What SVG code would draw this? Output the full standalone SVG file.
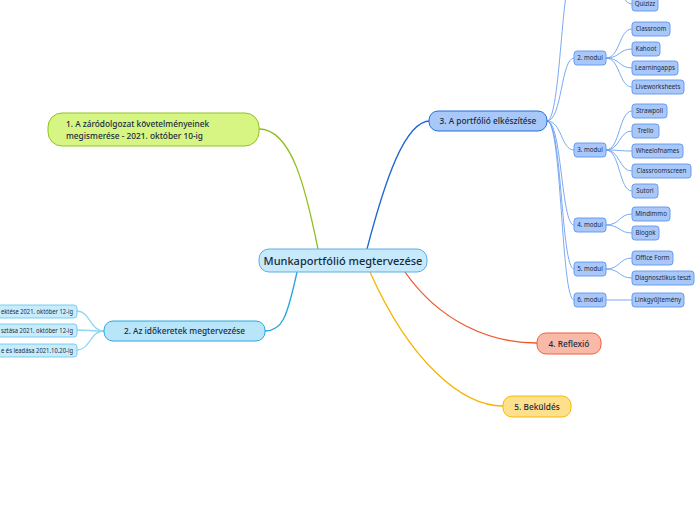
<svg xmlns="http://www.w3.org/2000/svg" width="696" height="520" viewBox="0 0 696 520">
<style>
text{font-family:"Noto Sans","Open Sans","DejaVu Sans",sans-serif;fill:#1a2a3c}
.c{fill:none;stroke-width:1.3}
.m{fill:none;stroke:#6b9ff0;stroke-width:0.9}
.t{font-size:11px;font-weight:500}
.n{font-size:8.3px;font-weight:500}
.s{font-size:6.2px}
.leaf{fill:#a9c8f9;stroke:#5b95ee;stroke-width:0.9}
.bl{fill:#c9ecfb;stroke:#6ccbf0;stroke-width:0.9}
</style>
<rect width="696" height="520" fill="#ffffff"/>
<g id="connectors">
<path class="c" stroke="#8fbf1a" d="M259,129 C292,129 306,190 318,249"/>
<path class="c" stroke="#1f66d6" d="M367,249 C385,180 405,121 430,121"/>
<path class="c" stroke="#24a4e0" d="M297,272 C287,318 282,331 265,331"/>
<path class="c" stroke="#f0552a" d="M405,272 C440,322 490,343 537,343"/>
<path class="c" stroke="#f5b400" d="M370,272 C410,362 462,406 503,406"/>
<path class="c" stroke="#8fd6f2" stroke-width="0.9" d="M104,331 C90,331 90,311 77,311"/>
<path class="c" stroke="#8fd6f2" stroke-width="0.9" d="M104,331 C90,331 90,330 77,330"/>
<path class="c" stroke="#8fd6f2" stroke-width="0.9" d="M104,331 C90,331 90,350 77,350"/>
<path class="m" d="M547,121 C561,121 561,-30 574,-30"/>
<path class="m" d="M547,121 C562,121 561,58 574,58"/>
<path class="m" d="M547,121 C562,121 561,150 574,150"/>
<path class="m" d="M547,121 C562,121 561,225 574,225"/>
<path class="m" d="M547,121 C562,121 561,269 574,269"/>
<path class="m" d="M547,121 C562,121 561,300 574,300"/>
<path class="m" d="M606,-30 C620,-30 619,4 632,4"/>
<path class="m" d="M606,58 C620,58 619,29 632,29"/>
<path class="m" d="M606,58 C620,58 619,49 632,49"/>
<path class="m" d="M606,58 C620,58 619,68 632,68"/>
<path class="m" d="M606,58 C620,58 619,87 632,87"/>
<path class="m" d="M606,150 C620,150 619,111 632,111"/>
<path class="m" d="M606,150 C620,150 619,131 632,131"/>
<path class="m" d="M606,150 C620,150 619,151 632,151"/>
<path class="m" d="M606,150 C620,150 619,171 632,171"/>
<path class="m" d="M606,150 C620,150 619,191 632,191"/>
<path class="m" d="M606,225 C620,225 619,214 632,214"/>
<path class="m" d="M606,225 C620,225 619,233 632,233"/>
<path class="m" d="M606,269 C620,269 619,258 632,258"/>
<path class="m" d="M606,269 C620,269 619,278 632,278"/>
<path class="m" d="M606,300 L632,300"/>
</g>
<g id="center">
<rect x="259" y="249" width="168" height="23" rx="10" fill="#c6e9fb" stroke="#5aaee6" stroke-width="1"/>
<text class="t" x="343" y="264.5" text-anchor="middle">Munkaportfólió megtervezése</text>
</g>
<g id="n1">
<rect x="48" y="113" width="211" height="33" rx="14" fill="#d7f583" stroke="#8fc31f" stroke-width="1"/>
<text class="n" x="66" y="127">1. A záródolgozat követelményeinek</text>
<text class="n" x="66" y="139">megismerése - 2021. október 10-ig</text>
</g>
<g id="n3">
<rect x="429" y="111" width="118" height="20" rx="9" fill="#a7c8f8" stroke="#1f6fd9" stroke-width="1"/>
<text class="n" x="488" y="124" text-anchor="middle">3. A portfólió elkészítése</text>
</g>
<g id="n2">
<rect x="104" y="321" width="161" height="20" rx="9" fill="#b9e5f9" stroke="#2aa8e0" stroke-width="1"/>
<text class="n" x="184.5" y="334" text-anchor="middle">2. Az időkeretek megtervezése</text>
</g>
<g id="n4">
<rect x="537" y="333" width="64" height="21" rx="9" fill="#f8b9a8" stroke="#f0603a" stroke-width="1"/>
<text class="n" x="569" y="346.5" text-anchor="middle">4. Reflexió</text>
</g>
<g id="n5">
<rect x="503" y="396" width="68" height="21" rx="9" fill="#fde08b" stroke="#f6b900" stroke-width="1"/>
<text class="n" x="537" y="409.5" text-anchor="middle">5. Beküldés</text>
</g>
<g id="b1"><rect class="bl" x="-10" y="305" width="87" height="13" rx="3"/><text class="s" x="1" y="313.5" textLength="72" lengthAdjust="spacingAndGlyphs">ektése 2021. október 12-ig</text></g>
<g id="b2"><rect class="bl" x="-10" y="324" width="87" height="13" rx="3"/><text class="s" x="1" y="332.5" textLength="72" lengthAdjust="spacingAndGlyphs">sztása  2021. október 12-ig</text></g>
<g id="b3"><rect class="bl" x="-10" y="344" width="87" height="13" rx="3"/><text class="s" x="1" y="352.5" textLength="72" lengthAdjust="spacingAndGlyphs">e és leadása 2021.10.20-ig</text></g>
<g id="m2"><rect class="leaf" x="574" y="51" width="32" height="14" rx="3"/><text class="s" x="590" y="60.3" text-anchor="middle">2. modul</text></g>
<g id="m3"><rect class="leaf" x="574" y="143" width="32" height="14" rx="3"/><text class="s" x="590" y="152.3" text-anchor="middle">3. modul</text></g>
<g id="m4"><rect class="leaf" x="574" y="218" width="32" height="14" rx="3"/><text class="s" x="590" y="227.3" text-anchor="middle">4. modul</text></g>
<g id="m5"><rect class="leaf" x="574" y="262" width="32" height="14" rx="3"/><text class="s" x="590" y="271.3" text-anchor="middle">5. modul</text></g>
<g id="m6"><rect class="leaf" x="574" y="293" width="32" height="14" rx="3"/><text class="s" x="590" y="302.3" text-anchor="middle">6. modul</text></g>
<g id="l-quizizz"><rect class="leaf" x="632" y="-3" width="26" height="14" rx="3"/><text class="s" x="645" y="6.3" text-anchor="middle">Quizizz</text></g>
<g id="l-classroom"><rect class="leaf" x="632" y="22" width="38" height="14" rx="3"/><text class="s" x="651" y="31.3" text-anchor="middle">Classroom</text></g>
<g id="l-kahoot"><rect class="leaf" x="632" y="42" width="28" height="14" rx="3"/><text class="s" x="646" y="51.3" text-anchor="middle">Kahoot</text></g>
<g id="l-learningapps"><rect class="leaf" x="632" y="61" width="46" height="14" rx="3"/><text class="s" x="655" y="70.3" text-anchor="middle">Learningapps</text></g>
<g id="l-liveworksheets"><rect class="leaf" x="632" y="80" width="52" height="14" rx="3"/><text class="s" x="658" y="89.3" text-anchor="middle">Liveworksheets</text></g>
<g id="l-strawpoll"><rect class="leaf" x="632" y="104" width="35" height="14" rx="3"/><text class="s" x="649.5" y="113.3" text-anchor="middle">Strawpoll</text></g>
<g id="l-trello"><rect class="leaf" x="632" y="124" width="27" height="14" rx="3"/><text class="s" x="645.5" y="133.3" text-anchor="middle">Trello</text></g>
<g id="l-wheel"><rect class="leaf" x="632" y="144" width="51" height="14" rx="3"/><text class="s" x="657.5" y="153.3" text-anchor="middle">Wheelofnames</text></g>
<g id="l-classroomscreen"><rect class="leaf" x="632" y="164" width="59" height="14" rx="3"/><text class="s" x="661.5" y="173.3" text-anchor="middle">Classroomscreen</text></g>
<g id="l-sutori"><rect class="leaf" x="632" y="184" width="26" height="14" rx="3"/><text class="s" x="645" y="193.3" text-anchor="middle">Sutori</text></g>
<g id="l-mindimmo"><rect class="leaf" x="632" y="207" width="38" height="14" rx="3"/><text class="s" x="651" y="216.3" text-anchor="middle">Mindimmo</text></g>
<g id="l-blogok"><rect class="leaf" x="632" y="226" width="27" height="14" rx="3"/><text class="s" x="645.5" y="235.3" text-anchor="middle">Blogok</text></g>
<g id="l-officeform"><rect class="leaf" x="632" y="251" width="41" height="14" rx="3"/><text class="s" x="652.5" y="260.3" text-anchor="middle">Office Form</text></g>
<g id="l-diag"><rect class="leaf" x="632" y="271" width="62" height="14" rx="3"/><text class="s" x="663" y="280.3" text-anchor="middle">Diagnosztikus teszt</text></g>
<g id="l-link"><rect class="leaf" x="632" y="293" width="52" height="14" rx="3"/><text class="s" x="658" y="302.3" text-anchor="middle">Linkgyűjtemény</text></g>
</svg>
